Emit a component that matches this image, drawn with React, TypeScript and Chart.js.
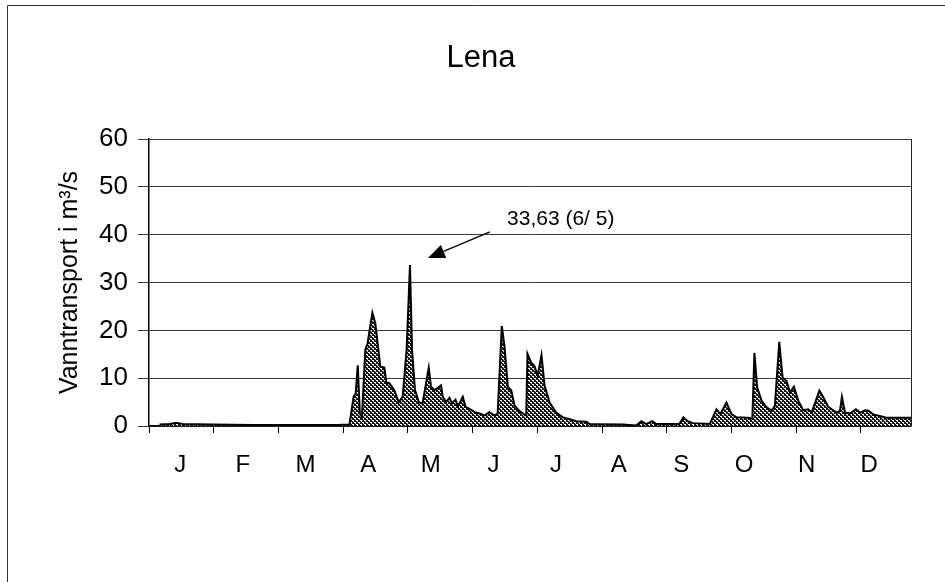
import React, { useEffect, useRef } from "react";
import { Chart, registerables } from "chart.js";

Chart.register(...registerables);

// ---- data (day of year, flow in m³/s) ----
const days: number[] = [
  5, 10, 13, 16, 30, 50, 70, 90, 96, 98, 99, 100, 101, 102, 103.6, 104.7, 107, 108.4, 110.8, 112.7,
  113.8, 115, 117.5, 119.6, 121.5, 123.4, 125, 126, 127.4, 129.2, 131, 132.7, 134, 135.1, 136.7,
  137.8, 139.9, 140.7, 142.3, 143.9, 145.2, 146.8, 148, 150.3, 151.6, 153.5, 156, 158.3, 160.7,
  163, 165.5, 167, 169, 170.3, 171.9, 173.5, 175.1, 177.5, 179.9, 180.7, 181.3, 183, 184.6, 186.2,
  188, 189.5, 191.9, 195, 198.3, 201.5, 204.7, 209.5, 211, 216, 227, 233.4, 235.8, 238.2, 241,
  243, 254, 256, 258, 260.6, 268.6, 271.8, 273.7, 276.6, 279, 281.4, 284.6, 287.8, 289, 290,
  291.3, 293.4, 295.8, 298.2, 299.8, 301.9, 303.5, 305.4, 307, 308.9, 311, 313.4, 315.8, 317.4,
  321.1, 323, 325.4, 327, 329.4, 331, 331.9, 333.4, 335.8, 338.6, 340.6, 343, 344.6, 347, 351,
  353.4, 365,
];
const flow: number[] = [
  0.3, 0.4, 0.7, 0.4, 0.3, 0.2, 0.2, 0.2, 0.3, 6.1, 6.8, 12.7, 2.6, 1.9, 15.9, 17.3, 23.7, 21.5, 12.4, 12.2,
  8.9, 9.0, 7.5, 5.0, 6.1, 15.9, 33.63, 15.9, 7.5, 5.0, 4.7, 8.9, 12.2, 8.2, 7.5,
  7.8, 8.5, 6.1, 5.0, 5.9, 4.7, 5.5, 4.1, 6.1, 4.0, 3.6, 2.9, 2.6, 2.2,
  2.9, 2.2, 2.6, 20.9, 16.6, 8.2, 7.5, 4.3, 3.1, 2.4, 2.2, 15.1, 13.3, 12.6, 10.5,
  14.8, 8.4, 4.9, 2.8, 1.8, 1.4, 1.0, 0.9, 0.4, 0.35, 0.3, 0.1, 1.0, 0.4, 1.0,
  0.4, 0.4, 1.8, 1.0, 0.6, 0.4, 3.5, 2.5, 4.9, 2.5, 1.8, 1.8, 1.7, 1.5, 15.3,
  8.1, 5.3, 3.9, 3.2, 4.2, 17.6, 10.1, 9.4, 7.0, 8.2, 5.3, 3.3, 3.5, 2.8,
  7.4, 6.0, 4.0, 3.5, 2.8, 3.2, 6.1, 2.8, 2.6, 3.5, 2.8, 3.3, 3.2, 2.4, 2.0,
  1.7, 1.7,
];

const monthLabels: string[] = ["J", "F", "M", "A", "M", "J", "J", "A", "S", "O", "N", "D"];
const monthLabelDays: number[] = [15, 45, 75, 105, 135, 165, 195, 225, 255, 285, 315, 345];
const monthTickDays: number[] = [0, 31, 62, 93, 124, 155, 186, 217, 248, 279, 310, 341];
const yTicks: number[] = [0, 10, 20, 30, 40, 50, 60];

const chartTitle = "Lena";
const yAxisTitle = "Vanntransport i m³/s";
const annotationText = "33,63 (6/ 5)";
// annotation anchor points in data coordinates [day, value]
const annotationTextAt: [number, number] = [171.5, 42.0];
const arrowFrom: [number, number] = [163.3, 40.6];
const arrowTo: [number, number] = [133.6, 35.1];

const FONT = "'Liberation Sans', Arial, Helvetica, sans-serif";

export default function App() {
  const ref = useRef<HTMLCanvasElement | null>(null);

  useEffect(() => {
    const canvas = ref.current;
    if (!canvas) return;

    const pc = document.createElement("canvas");
    pc.width = 4;
    pc.height = 4;
    const p = pc.getContext("2d")!;
    p.fillStyle = "#181818";
    p.fillRect(0, 0, 4, 4);
    p.fillStyle = "#ffffff";
    p.fillRect(0, 0, 2, 1);
    p.fillRect(2, 2, 2, 1);
    p.fillStyle = "#bdbdbd";
    p.fillRect(1, 1, 1, 1);
    p.fillRect(3, 3, 1, 1);
    const ctx0 = canvas.getContext("2d")!;
    const pattern = ctx0.createPattern(pc, "repeat")!;

    const decor = {
      id: "decor",
      afterDraw(chart: any) {
        const { ctx, chartArea, scales } = chart;
        const xs = scales.x;
        const ys = scales.y;
        ctx.save();
        // outer frame (left + top)
        ctx.strokeStyle = "#333";
        ctx.lineWidth = 1;
        ctx.beginPath();
        ctx.moveTo(7.5, 582);
        ctx.lineTo(7.5, 5.5);
        ctx.lineTo(945, 5.5);
        ctx.stroke();
        // right border of plot
        ctx.strokeStyle = "#222";
        ctx.beginPath();
        ctx.moveTo(chartArea.right + 0.5, chartArea.top);
        ctx.lineTo(chartArea.right + 0.5, chartArea.bottom);
        ctx.stroke();
        // title
        ctx.fillStyle = "#000";
        ctx.font = `31px ${FONT}`;
        ctx.textAlign = "center";
        ctx.textBaseline = "alphabetic";
        ctx.fillText(chartTitle, 481, 67);
        // y title
        ctx.save();
        ctx.translate(70, (chartArea.top + chartArea.bottom) / 2);
        ctx.rotate(-Math.PI / 2);
        ctx.font = `25px ${FONT}`;
        ctx.textAlign = "center";
        ctx.textBaseline = "middle";
        ctx.fillText(yAxisTitle, 0, 0);
        ctx.restore();
        // month labels
        ctx.font = `24px ${FONT}`;
        ctx.textAlign = "center";
        ctx.textBaseline = "alphabetic";
        monthLabels.forEach((m, i) => {
          ctx.fillText(m, xs.getPixelForValue(monthLabelDays[i]), chartArea.bottom + 46);
        });
        // annotation
        ctx.font = `21px ${FONT}`;
        ctx.textAlign = "left";
        ctx.fillText(annotationText, xs.getPixelForValue(annotationTextAt[0]), ys.getPixelForValue(annotationTextAt[1]));
        const x1 = xs.getPixelForValue(arrowFrom[0]);
        const y1 = ys.getPixelForValue(arrowFrom[1]);
        const x2 = xs.getPixelForValue(arrowTo[0]);
        const y2 = ys.getPixelForValue(arrowTo[1]);
        const ang = Math.atan2(y2 - y1, x2 - x1);
        const hl = 17;
        const hw = 7;
        const bx = x2 - hl * Math.cos(ang);
        const by = y2 - hl * Math.sin(ang);
        ctx.strokeStyle = "#000";
        ctx.lineWidth = 1.3;
        ctx.beginPath();
        ctx.moveTo(x1, y1);
        ctx.lineTo(bx, by);
        ctx.stroke();
        ctx.fillStyle = "#000";
        ctx.beginPath();
        ctx.moveTo(x2, y2);
        ctx.lineTo(bx + hw * Math.sin(ang), by - hw * Math.cos(ang));
        ctx.lineTo(bx - hw * Math.sin(ang), by + hw * Math.cos(ang));
        ctx.closePath();
        ctx.fill();
        ctx.restore();
      },
    };

    const chart = new Chart(canvas, {
      type: "line",
      data: {
        datasets: [
          {
            data: days.map((d, i) => ({ x: d, y: flow[i] })),
            borderColor: "#000",
            borderWidth: 2,
            backgroundColor: pattern,
            fill: "origin",
            pointRadius: 0,
            tension: 0,
          },
        ],
      },
      options: {
        animation: false,
        responsive: false,
        devicePixelRatio: 1,
        layout: { padding: { top: 139, right: 34, left: 0, bottom: 0 } },
        plugins: { legend: { display: false }, tooltip: { enabled: false }, title: { display: false } },
        scales: {
          x: {
            type: "linear",
            min: 0,
            max: 365,
            afterBuildTicks: (s: any) => {
              s.ticks = monthTickDays.map((v) => ({ value: v }));
            },
            afterFit: (s: any) => {
              s.height = 156;
            },
            grid: { drawOnChartArea: false, drawTicks: true, tickLength: 7, color: "#000", lineWidth: 1 },
            border: { color: "#000", width: 1.5 },
            ticks: { callback: () => "", autoSkip: false, maxRotation: 0 },
          },
          y: {
            min: 0,
            max: 60,
            afterBuildTicks: (s: any) => {
              s.ticks = yTicks.map((v) => ({ value: v }));
            },
            afterFit: (s: any) => {
              s.width = 149;
            },
            grid: { color: "#3a3a3a", lineWidth: 1, tickLength: 11 },
            border: { color: "#000", width: 1.5 },
            ticks: { color: "#000", font: { family: FONT, size: 26 }, padding: 10 },
          },
        },
      },
      plugins: [decor],
    });

    return () => chart.destroy();
  }, []);

  return (
    <div style={{ position: "absolute", left: 0, top: 0, width: 945, height: 582, background: "#fff" }}>
      <canvas ref={ref} width={945} height={582} style={{ display: "block", width: 945, height: 582 }} />
    </div>
  );
}
